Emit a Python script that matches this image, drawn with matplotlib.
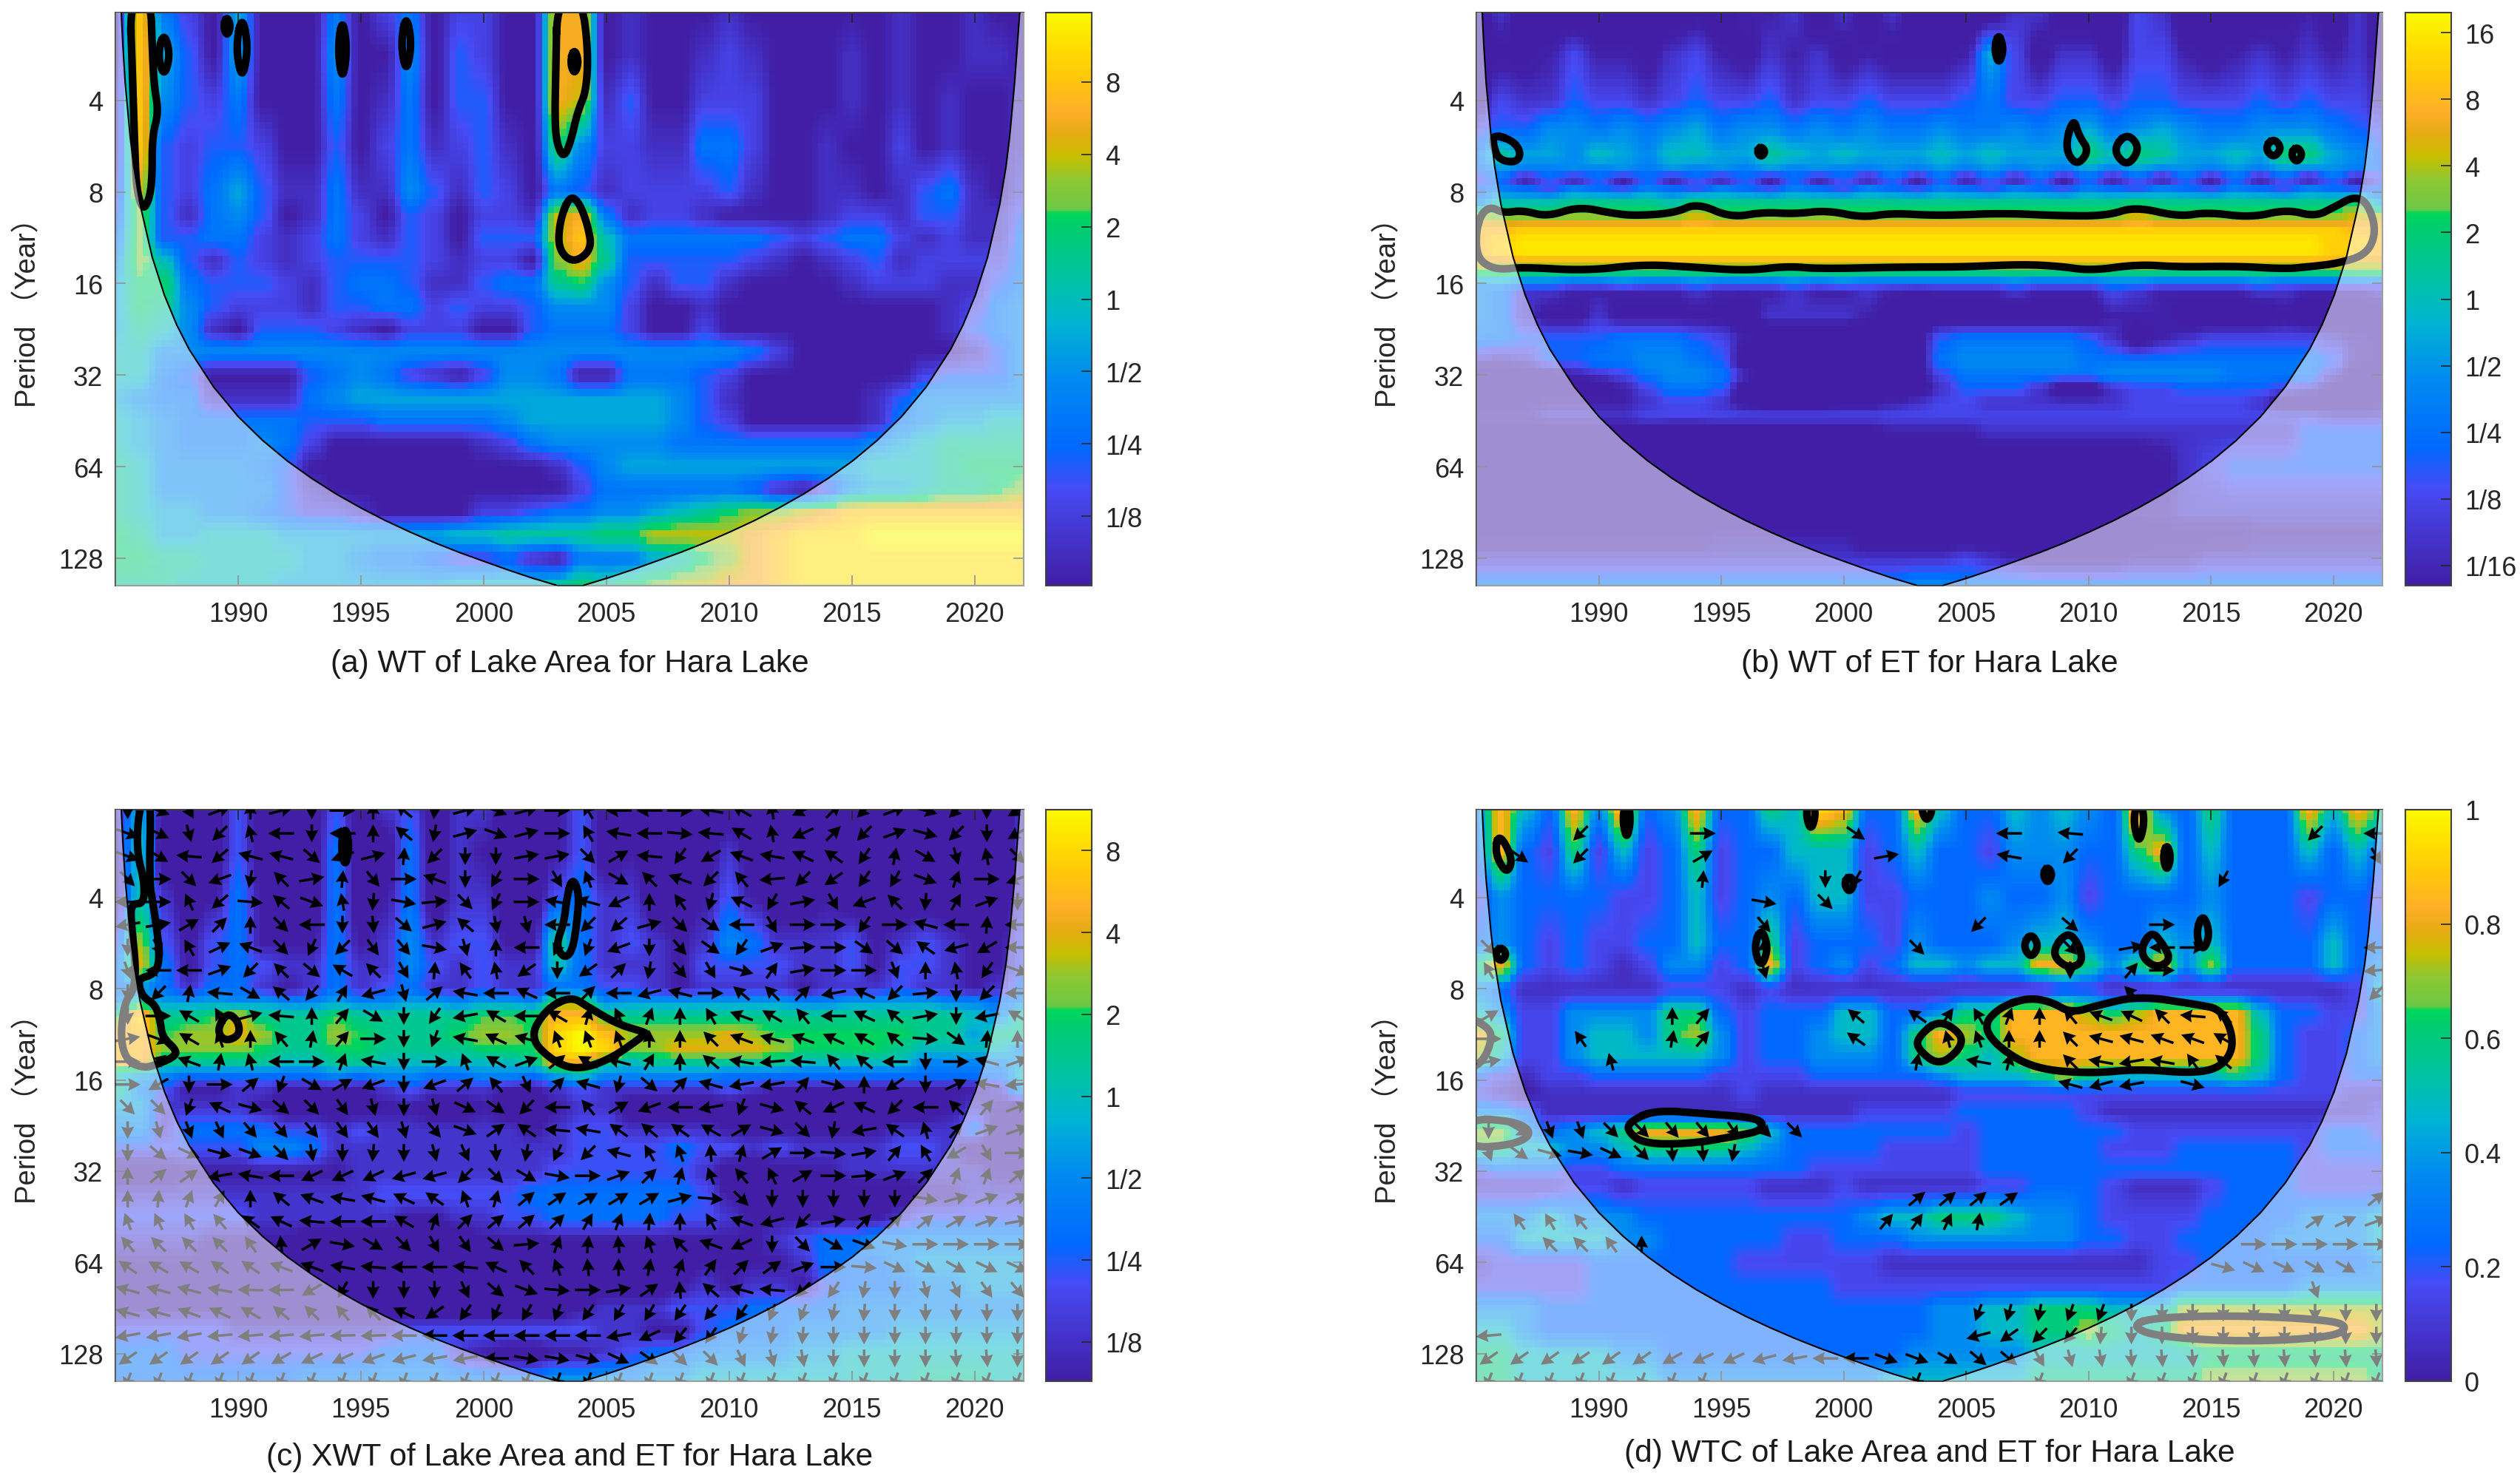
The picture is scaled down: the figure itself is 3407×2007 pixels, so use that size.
import numpy as np
import matplotlib
matplotlib.use("Agg")
import matplotlib.pyplot as plt
from matplotlib.colors import LinearSegmentedColormap

plt.rcParams["font.family"] = ["Liberation Sans", "Noto Sans CJK SC", "DejaVu Sans"]

W, H = 3407, 2008

titles = ["(a) WT of Lake Area for Hara Lake", "(b) WT of ET for Hara Lake",
          "(c) XWT of Lake Area and ET for Hara Lake", "(d) WTC of Lake Area and ET for Hara Lake"]
period_ticks = [4, 8, 16, 32, 64, 128]
year_ticks = [1990, 1995, 2000, 2005, 2010, 2015, 2020]
grid_years = list(range(1985, 2023))

# cone of influence
coi_years = [1985.0, 1985.2, 1985.3, 1985.4, 1985.6, 1985.75, 1986, 1986.5, 1987, 1987.5, 1988, 1989, 1990, 1991,
             1992, 1993, 1994, 1995, 1996, 1997, 1998, 1999, 2000, 2001, 2002, 2002.95, 2003.55,
             2004.1, 2005.03, 2006.03, 2007.03, 2008.03, 2009.03, 2010.03, 2011.03, 2012.03, 2013.03, 2014.03,
             2015.03, 2016.03, 2017.03, 2018.03, 2019.03, 2019.53, 2020.03, 2020.53, 2021.03, 2021.28, 2021.43,
             2021.63, 2021.83, 2022.03]
coi_periods = [1.5, 1.75, 2.6, 3.5, 5.25, 6.6, 8.75, 13.1, 17.5, 21.9, 26.3, 35, 43.8, 52.5,
               61.3, 70, 78.8, 87.5, 96.3, 105, 113.8, 122.5, 131, 140, 149, 157, 175,
               157, 149, 140, 131, 122.5, 113.8, 105, 96.3, 87.5, 78.8, 70,
               61.3, 52.5, 43.8, 35, 26.3, 21.9, 17.5, 13.1, 8.75, 6.6, 5.25,
               3.5, 2.1, 1.5]

# power in half-octaves (a, b, c) and coherence in tenths (d), one row per log2 period
rows_a = [1.04, 1.5, 2, 2.5, 3, 3.25, 3.5, 3.75, 4, 4.25, 4.5, 4.75, 5, 5.25, 5.5, 5.75, 6, 6.25, 6.5, 6.75, 7, 7.3]
levels_a = [
    [-7, 6, -3, -5, -7, -1, -7, -7, -7, -3, -7, -5, -3, -7, -5, -5, -7, -7, 5, 5, -7, -6, -7, -7, -7, -6, -7, -7, -7, -7, -7, -7, -6, -7, -7, -6, -7, -7],
    [-7, 6, -1, -4, -7, -1, -7, -7, -7, -2, -7, -7, -2, -7, -4, -5, -7, -7, 5, 5, -7, -6, -7, -7, -6, -5, -6, -7, -7, -7, -6, -7, -6, -7, -7, -6, -6, -7],
    [-6, 6, -2, -4, -5, -3, -7, -7, -7, -3, -7, -6, -3, -7, -4, -4, -7, -7, 5, 4, -6, -4, -7, -7, -5, -5, -5, -7, -7, -7, -6, -7, -6, -7, -6, -7, -7, -6],
    [-6, 6, -4, -5, -4, -4, -5, -7, -7, -4, -7, -5, -3, -6, -5, -4, -6, -7, 2, -2, -5, -5, -6, -6, -3, -3, -5, -7, -7, -6, -7, -7, -5, -7, -6, -7, -7, -6],
    [-5, 4, -4, -5, -3, -1, -4, -6, -6, -3, -6, -6, -2, -4, -6, -4, -5, -7, -3, -4, -6, -5, -5, -5, -5, -4, -6, -7, -7, -6, -6, -7, -6, -4, -3, -6, -7, -5],
    [-4, 3, -4, -6, -3, -2, -4, -7, -6, -3, -5, -7, -4, -5, -7, -5, -5, -6, 4, 5, -3, -6, -5, -5, -6, -7, -7, -7, -7, -6, -5, -5, -6, -4, -4, -6, -6, -4],
    [-3, 3, -4, -4, -3, -3, -5, -6, -5, -3, -5, -6, -4, -5, -7, -4, -4, -4, 4, 6, 0, -3, -3, -3, -3, -3, -3, -4, -5, -4, -3, -3, -5, -6, -5, -6, -6, -3],
    [-2, 3, 0, -4, -6, -4, -5, -6, -5, -4, -4, -4, -4, -5, -6, -5, -5, -7, 3, 5, 1, -4, -4, -4, -4, -4, -5, -6, -7, -6, -5, -4, -6, -5, -5, -5, -5, -3],
    [-1, 2, 2, -3, -4, -4, -4, -5, -6, -4, -3, -3, -4, -6, -6, -4, -3, -3, 1, 2, -2, -4, -6, -4, -4, -6, -7, -7, -7, -7, -6, -5, -5, -5, -6, -6, -4, -3],
    [-1, 2, 1, -2, -4, -5, -5, -5, -6, -4, -4, -3, -3, -5, -4, -5, -5, -4, -2, -2, -2, -5, -7, -7, -6, -7, -7, -7, -7, -7, -7, -7, -7, -7, -6, -5, -3, -2],
    [-1, 1, 0, -2, -6, -7, -4, -4, -4, -5, -6, -7, -5, -5, -5, -7, -7, -4, -3, -3, -3, -5, -7, -7, -5, -7, -7, -7, -7, -7, -7, -7, -7, -7, -6, -4, -3, -2],
    [0, 0, -2, -2, -2, -2, -2, -2, -2, -2, -2, -2, -2, -2, -2, -2, -2, -2, -2, -2, -2, -2, -2, -2, -2, -2, -3, -5, -7, -7, -7, -7, -7, -7, -7, -6, -4, -2],
    [0, 0, -3, -4, -7, -7, -7, -7, -4, -3, -2, -3, -5, -6, -7, -5, -2, -2, -3, -7, -7, -3, -3, -3, -4, -5, -7, -7, -7, -7, -7, -7, -7, -5, -4, -4, -4, -2],
    [-1, -2, -3, -3, -6, -6, -6, -6, -3, -2, -1, -1, -1, -1, -1, -1, -1, -1, -1, -1, -1, -1, -1, -2, -4, -6, -7, -7, -7, -7, -7, -6, -4, -2, -2, -2, -2, -2],
    [0, -1, -2, -3, -3, -3, -3, -3, -4, -4, -4, -3, -3, -3, -3, -3, -2, -1, -1, -1, -1, -1, -1, -2, -4, -5, -7, -7, -7, -7, -7, -6, -3, -2, -1, -1, 0, 0],
    [0, -1, -2, -3, -3, -3, -2, -3, -5, -7, -7, -7, -7, -7, -7, -6, -5, -3, -2, -2, -2, -2, -2, -3, -3, -3, -3, -3, -3, -3, -3, -2, -1, 0, 1, 1, 1, 1],
    [1, 0, -2, -2, -2, -2, -3, -4, -7, -7, -7, -7, -7, -7, -7, -7, -7, -7, -6, -4, -2, -1, -1, -1, -1, -1, -1, -1, -1, -1, -1, 0, 0, 0, 1, 2, 2, 2],
    [1, 0, -2, -2, -2, -2, -2, -4, -6, -7, -7, -7, -7, -7, -7, -7, -7, -7, -7, -5, -3, -3, -3, -3, -3, -3, -4, -6, -7, -5, -2, -1, -1, 0, 1, 1, 2, 3],
    [1, 0, -1, -1, -2, -2, -3, -4, -5, -5, -6, -7, -7, -7, -7, -5, -5, -4, -3, -3, -2, -2, -1, 0, 1, 2, 3, 3, 4, 5, 6, 6, 6, 6, 6, 6, 6, 6],
    [2, 1, -1, -1, 0, 0, 0, -1, -1, -1, -1, -1, -1, -1, 0, 0, 1, 1, 1, 1, 2, 2, 4, 4, 4, 4, 5, 6, 7, 7, 7, 8, 8, 8, 8, 8, 8, 8],
    [2, 2, 1, 1, 0, 0, 0, 0, -1, -1, -2, -3, -3, -4, -5, -5, -4, -6, -7, -3, -3, -3, -1, 0, 2, 3, 5, 6, 7, 7, 7, 7, 7, 7, 7, 7, 7, 7],
    [1, 1, 1, 0, 0, 0, 0, -1, -1, -1, -1, -1, -1, -1, 0, 0, 0, 0, 1, 2, 1, 2, 3, 4, 4, 5, 5, 6, 7, 7, 7, 7, 7, 7, 7, 7, 7, 7],
]

rows_b = [1.04, 1.5, 2, 2.3, 2.6, 2.78, 2.85, 2.95, 3.1, 3.3, 3.42, 3.53, 3.65, 3.75, 3.87, 4, 4.1, 4.35, 4.6, 4.85, 5, 5.15, 5.3, 5.45, 5.6, 6, 6.5, 6.75, 7, 7.3]
levels_b = [
    [-9, -6, -9, -9, -9, -9, -9, -9, -9, -8, -9, -7, -7, -6, -9, -6, -9, -6, -9, -9, -9, -9, -6, -6, -9, -9, -9, -5, -6, -9, -9, -9, -9, -8, -7, -9, -6, -9],
    [-9, -8, -8, -7, -5, -7, -7, -8, -6, -5, -7, -8, -6, -7, -6, -8, -7, -8, -8, -8, -7, -1, -5, -8, -6, -6, -8, -5, -5, -7, -8, -7, -6, -7, -6, -7, -6, -8],
    [-8, -5, -6, -6, -4, -5, -5, -6, -5, -4, -5, -5, -4, -6, -5, -5, -4, -5, -5, -5, -4, -3, -5, -5, -4, -4, -5, -4, -4, -5, -5, -5, -4, -5, -4, -5, -5, -7],
    [-5, -4, -4, -2, -2, -3, -2, -3, -2, -1, -3, -2, -2, -3, -2, -3, -2, -3, -3, -2, -3, -3, -2, -3, -2, -1, -3, -2, -1, -2, -3, -3, -2, -2, -2, -3, -4, -5],
    [-3, 1, -1, -1, -2, 0, -1, -2, 0, 0, -1, -1, 1, 0, -1, 0, -1, -1, -1, 0, -1, 0, -1, -1, -1, 2, 0, 2, 1, -1, -1, 0, -1, 2, 2, -1, -2, -4],
    [-4, -2, -3, -3, -2, -3, -2, -3, -2, -3, -2, -3, -2, -3, -2, -3, -3, -2, -3, -2, -3, -2, -3, -2, -3, -2, -3, -2, -3, -2, -3, -2, -3, -2, -3, -2, -3, -4],
    [-5, -4, -8, -4, -8, -4, -8, -4, -8, -4, -8, -4, -8, -4, -8, -4, -8, -4, -8, -4, -8, -4, -8, -4, -8, -4, -8, -4, -8, -4, -8, -4, -8, -4, -8, -4, -8, -5],
    [-4, -3, -4, -5, -3, -4, -5, -3, -4, -5, -3, -4, -5, -3, -4, -5, -3, -4, -5, -3, -4, -5, -3, -4, -5, -3, -4, -5, -3, -4, -5, -3, -4, -5, -3, -4, -5, -4],
    [-3, 0, 0, 0, 1, 1, 1, 1, 0, 2, 1, 1, 1, 1, 1, 1, 1, 1, 1, 1, 1, 1, 1, 1, 1, 1, 1, 2, 1, 1, 1, 1, 1, 1, 1, 1, 2, -2],
    [5, 4, 4, 4, 4, 4, 4, 4, 4, 5, 4, 4, 4, 4, 4, 4, 4, 4, 4, 4, 4, 4, 4, 4, 4, 4, 4, 5, 4, 4, 4, 4, 4, 4, 4, 4, 5, 5],
    [6, 6, 7, 7, 7, 7, 7, 7, 7, 7, 7, 7, 7, 7, 7, 7, 7, 7, 7, 7, 7, 7, 7, 7, 7, 7, 7, 7, 7, 7, 7, 7, 7, 7, 7, 7, 6, 6],
    [6, 7, 8, 8, 8, 8, 8, 8, 8, 8, 8, 8, 8, 8, 8, 8, 8, 8, 8, 8, 8, 8, 8, 8, 8, 8, 8, 8, 8, 8, 8, 8, 8, 8, 8, 7, 7, 6],
    [6, 7, 8, 8, 8, 8, 8, 8, 8, 8, 8, 8, 8, 8, 8, 8, 8, 8, 8, 8, 8, 8, 8, 8, 8, 8, 8, 8, 8, 8, 8, 8, 8, 8, 8, 7, 7, 6],
    [5, 5, 6, 6, 6, 6, 6, 6, 6, 6, 6, 6, 6, 6, 6, 6, 6, 6, 6, 6, 6, 6, 6, 6, 6, 6, 6, 6, 6, 6, 6, 6, 6, 6, 6, 6, 5, 5],
    [3, 3, 2, 2, 2, 2, 2, 2, 2, 2, 2, 2, 2, 2, 2, 2, 2, 2, 2, 2, 2, 2, 2, 2, 2, 2, 2, 2, 2, 2, 2, 2, 2, 2, 2, 2, 3, 3],
    [-2, -2, -3, -3, -4, -4, -3, -4, -4, -3, -4, -4, -4, -3, -4, -3, -4, -4, -4, -4, -4, -4, -3, -4, -4, -4, -3, -3, -4, -4, -4, -4, -3, -4, -4, -4, -4, -4],
    [-2, -3, -6, -6, -7, -7, -7, -7, -7, -6, -7, -7, -7, -6, -7, -7, -6, -7, -8, -7, -7, -7, -6, -7, -7, -7, -5, -6, -7, -7, -7, -7, -6, -6, -7, -7, -7, -6],
    [-2, -3, -6, -8, -8, -6, -8, -8, -8, -8, -8, -9, -6, -6, -6, -6, -7, -9, -9, -9, -9, -9, -9, -9, -9, -9, -7, -7, -7, -9, -9, -9, -9, -8, -9, -9, -9, -9],
    [-3, -3, -4, -4, -4, -4, -3, -3, -3, -4, -5, -7, -9, -9, -9, -9, -9, -9, -8, -4, -3, -3, -3, -3, -3, -4, -6, -9, -7, -6, -5, -5, -5, -5, -5, -6, -7, -8],
    [-6, -7, -6, -4, -4, -3, -3, -2, -2, -3, -4, -9, -9, -9, -9, -9, -9, -9, -8, -3, -2, -2, -2, -2, -2, -3, -3, -3, -3, -3, -3, -3, -3, -3, -3, -4, -7, -8],
    [-9, -9, -9, -9, -7, -6, -5, -3, -2, -2, -3, -6, -9, -9, -9, -9, -9, -9, -8, -5, -3, -3, -3, -3, -3, -3, -2, -2, -2, -2, -2, -3, -3, -3, -3, -6, -9, -9],
    [-9, -9, -9, -9, -9, -9, -7, -5, -3, -3, -4, -9, -9, -9, -9, -9, -9, -9, -9, -6, -4, -4, -4, -6, -9, -9, -6, -5, -5, -4, -4, -4, -4, -5, -6, -8, -9, -9],
    [-8, -8, -8, -7, -7, -7, -7, -6, -5, -5, -6, -8, -9, -9, -9, -8, -8, -7, -6, -5, -5, -6, -6, -6, -6, -6, -6, -5, -5, -5, -5, -5, -6, -9, -9, -9, -9, -8],
    [-7, -7, -7, -6, -6, -6, -6, -5, -5, -5, -5, -5, -5, -5, -5, -5, -5, -5, -5, -5, -5, -5, -5, -5, -5, -5, -5, -5, -5, -5, -5, -5, -5, -5, -5, -6, -6, -6],
    [-8, -8, -8, -8, -8, -8, -8, -8, -9, -9, -8, -8, -8, -8, -8, -8, -8, -7, -7, -7, -7, -6, -6, -6, -6, -6, -6, -6, -6, -6, -6, -6, -6, -6, -4, -4, -4, -4],
    [-9, -9, -9, -9, -9, -9, -9, -9, -9, -9, -9, -9, -9, -9, -9, -9, -9, -9, -9, -9, -9, -9, -9, -9, -9, -9, -9, -9, -8, -6, -5, -4, -4, -4, -4, -4, -4, -4],
    [-9, -9, -9, -9, -9, -9, -9, -9, -9, -9, -9, -9, -9, -9, -9, -9, -9, -9, -9, -9, -9, -9, -9, -9, -9, -9, -8, -7, -7, -6, -6, -6, -6, -6, -6, -6, -6, -6],
    [-8, -8, -8, -8, -8, -8, -8, -8, -8, -8, -7, -7, -7, -7, -7, -7, -9, -9, -9, -9, -9, -9, -9, -9, -9, -9, -9, -9, -8, -8, -8, -8, -7, -7, -7, -7, -7, -7],
    [-6, -6, -6, -6, -6, -6, -6, -6, -6, -6, -6, -6, -6, -6, -6, -6, -6, -6, -6, -6, -5, -6, -7, -8, -8, -8, -8, -7, -7, -7, -6, -6, -6, -6, -6, -6, -6, -6],
    [-3, -3, -3, -3, -3, -3, -3, -3, -3, -3, -3, -3, -3, -3, -3, -3, -3, -3, -2, -2, -3, -3, -3, -3, -3, -3, -3, -3, -3, -3, -3, -3, -3, -3, -3, -3, -3, -3],
]

rows_c = [1.04, 1.5, 2, 2.5, 2.75, 3, 3.15, 3.3, 3.5, 3.65, 3.8, 3.95, 4.1, 4.3, 4.55, 4.75, 5, 5.25, 5.5, 5.75, 6, 6.25, 6.5, 6.75, 7, 7.3]
levels_c = [
    [-5, -1, -6, -7, -7, -4, -7, -7, -7, -4, -7, -5, -4, -7, -5, -5, -7, -7, -6, -4, -7, -7, -7, -7, -7, -7, -7, -7, -7, -7, -7, -7, -7, -7, -7, -7, -7, -5],
    [-6, 0, -7, -7, -7, -4, -7, -7, -7, -3, -7, -7, -3, -7, -5, -6, -7, -7, -6, -4, -7, -6, -7, -7, -7, -5, -7, -7, -7, -7, -7, -7, -7, -7, -7, -7, -7, -5],
    [-6, 0, -5, -7, -6, -3, -6, -7, -7, -3, -7, -6, -3, -7, -5, -5, -7, -7, -4, -3, -5, -5, -7, -7, -6, -4, -6, -7, -7, -6, -7, -7, -7, -7, -7, -7, -7, -5],
    [-4, 3, -4, -6, -4, -3, -6, -6, -6, -3, -6, -5, -2, -5, -4, -4, -6, -6, 1, -3, -5, -4, -5, -6, -5, -2, -3, -5, -5, -5, -4, -6, -5, -4, -5, -6, -6, -4],
    [-3, 4, -3, -6, -4, -3, -4, -5, -5, -3, -5, -5, -2, -4, -5, -4, -5, -5, 0, -3, -5, -5, -5, -6, -4, -4, -4, -4, -5, -5, -4, -6, -4, -4, -5, -6, -6, -4],
    [-3, -2, -3, -5, -3, -3, -5, -6, -5, -3, -5, -4, -3, -5, -5, -4, -5, -5, -3, -3, -4, -4, -5, -6, -5, -5, -5, -5, -6, -5, -5, -5, -4, -5, -5, -6, -5, -3],
    [-2, 1, -1, -1, -1, -2, -1, -2, -2, -1, -2, -2, -1, -1, -2, -1, -1, -2, 3, 3, -2, -1, -1, -1, -1, -1, -1, -1, -2, -2, -1, -1, -1, -1, -2, -2, -3, -2],
    [2, 6, 1, 1, 2, 4, 1, 1, 1, 2, 1, 1, 1, 1, 1, 2, 2, 2, 5, 5, 2, 1, 1, 1, 1, 1, 1, 1, 1, 1, 1, 1, 1, 1, 1, 0, -2, 1],
    [5, 5, 2, 3, 3, 4, 3, 1, 1, 3, 2, 1, 1, 1, 2, 3, 3, 2, 6, 7, 5, 3, 3, 3, 3, 4, 3, 2, 2, 2, 2, 2, 2, 1, 1, -1, 1, 1],
    [5, 5, 3, 3, 3, 3, 2, 1, 1, 2, 2, 1, 1, 1, 1, 2, 2, 2, 6, 7, 6, 3, 3, 4, 4, 4, 4, 3, 2, 2, 2, 2, 1, 0, 0, 0, 0, -2],
    [5, 5, 1, 1, 1, 1, 1, 0, 0, 1, 1, 0, 0, 0, 0, 0, 0, 1, 5, 5, 1, 0, 1, 1, 1, 1, 1, 1, 0, 0, 0, 0, 0, -2, -2, -2, -2, -1],
    [0, -1, -2, -3, -3, -3, -3, -3, -3, -2, -3, -2, -2, -3, -3, -2, -2, -3, -1, 0, -2, -2, -2, -2, -2, -3, -3, -3, -3, -3, -3, -3, -3, -3, -3, -3, -3, 0],
    [1, -2, -4, -6, -6, -5, -5, -6, -6, -6, -6, -5, -4, -5, -5, -5, -6, -6, -5, -4, -5, -5, -5, -5, -5, -4, -5, -6, -6, -6, -6, -6, -6, -6, -6, -6, -5, -1],
    [-1, -1, -5, -5, -5, -5, -6, -7, -7, -7, -7, -6, -6, -7, -7, -6, -7, -7, -6, -5, -5, -7, -7, -7, -7, -7, -7, -7, -7, -7, -7, -7, -7, -7, -6, -5, -6, -7],
    [-2, -2, -5, -3, -3, -3, -3, -4, -4, -5, -4, -5, -5, -5, -5, -5, -5, -6, -5, -4, -4, -5, -5, -5, -5, -6, -6, -6, -6, -6, -6, -6, -5, -5, -5, -3, -7, -7],
    [-4, -4, -4, -4, -4, -4, -2, -2, -3, -5, -5, -5, -5, -5, -5, -5, -5, -5, -5, -4, -4, -4, -4, -3, -4, -4, -5, -4, -5, -5, -5, -5, -4, -4, -5, -7, -7, -7],
    [-7, -7, -7, -6, -6, -6, -6, -6, -6, -6, -5, -5, -5, -5, -5, -5, -5, -5, -4, -4, -4, -4, -4, -4, -5, -7, -7, -7, -6, -6, -5, -5, -5, -5, -5, -5, -6, -6],
    [-5, -5, -5, -5, -5, -5, -5, -5, -5, -5, -5, -4, -4, -4, -4, -4, -4, -3, -3, -3, -3, -3, -3, -3, -4, -6, -7, -7, -7, -7, -7, -7, -7, -6, -6, -5, -5, -5],
    [-4, -4, -4, -4, -4, -4, -5, -5, -5, -5, -5, -5, -6, -6, -5, -5, -4, -4, -3, -3, -3, -3, -3, -4, -4, -5, -6, -6, -6, -6, -6, -6, -5, -4, -4, -4, -4, -4],
    [-5, -5, -5, -5, -6, -6, -6, -6, -7, -7, -7, -7, -7, -7, -7, -6, -6, -6, -6, -6, -6, -6, -6, -6, -6, -6, -6, -5, -4, -3, -3, -2, -2, -2, -2, -2, -2, -2],
    [-6, -6, -6, -6, -7, -7, -7, -7, -7, -7, -7, -7, -7, -7, -7, -7, -7, -7, -7, -7, -7, -7, -7, -7, -6, -6, -6, -6, -5, -3, -3, -3, -2, -1, -1, -1, -1, -1],
    [-6, -6, -7, -7, -7, -7, -7, -7, -7, -7, -7, -7, -7, -7, -7, -7, -7, -7, -7, -7, -7, -7, -7, -6, -5, -6, -5, -5, -6, -4, -3, -3, -3, -2, -2, -1, -1, -1],
    [-6, -6, -6, -6, -6, -7, -7, -7, -7, -7, -7, -7, -7, -7, -7, -7, -7, -7, -7, -6, -5, -5, -5, -4, -4, -4, -3, -3, -3, -3, -2, -2, -2, -2, -2, -2, -2, -2],
    [-4, -4, -4, -4, -4, -5, -5, -5, -5, -5, -5, -5, -4, -4, -4, -4, -4, -4, -4, -4, -5, -5, -6, -6, -4, -3, -3, -3, -2, -2, -2, -2, -1, -1, -1, -1, -1, -1],
    [-3, -3, -3, -4, -4, -4, -4, -4, -4, -4, -4, -3, -3, -3, -5, -6, -7, -7, -6, -6, -5, -4, -3, -3, -2, -2, -2, -2, -1, -1, 0, 0, 0, 0, 0, 0, 0, 0],
    [-3, -3, -3, -3, -3, -3, -3, -3, -2, -2, -2, -2, -2, -2, -2, -2, -2, -2, -1, -1, -1, -2, -1, -1, 0, 0, 0, 0, 0, 0, 0, 0, 0, 1, 1, 1, 0, 0],
]

rows_d = [1.04, 1.5, 2, 2.5, 2.75, 3, 3.25, 3.5, 3.75, 3.95, 4.15, 4.35, 4.55, 4.75, 5, 5.15, 5.5, 5.75, 6, 6.25, 6.5, 6.75, 7, 7.3]
levels_d = [
    [4, 8, 5, 3, 8, 4, 9, 3, 4, 8, 3, 3, 6, 5, 9, 8, 3, 3, 8, 5, 3, 3, 5, 4, 5, 4, 3, 9, 4, 3, 6, 3, 3, 3, 8, 5, 8, 6],
    [3, 8, 3, 2, 6, 2, 5, 2, 3, 6, 2, 3, 3, 5, 5, 5, 2, 3, 5, 3, 3, 2, 4, 4, 4, 3, 3, 6, 8, 3, 5, 3, 3, 3, 5, 3, 5, 3],
    [2, 4, 3, 3, 3, 3, 2, 2, 3, 5, 2, 3, 4, 3, 5, 5, 2, 2, 3, 3, 3, 4, 3, 3, 4, 2, 3, 3, 3, 3, 4, 3, 3, 3, 2, 3, 3, 2],
    [3, 4, 3, 2, 3, 2, 2, 3, 3, 5, 3, 3, 6, 2, 3, 3, 3, 2, 4, 3, 3, 3, 4, 5, 5, 4, 3, 3, 5, 4, 5, 3, 3, 3, 3, 5, 3, 3],
    [6, 8, 3, 2, 3, 2, 1, 2, 4, 4, 2, 3, 8, 2, 3, 4, 2, 3, 5, 5, 4, 5, 5, 8, 8, 6, 4, 6, 8, 4, 7, 3, 3, 3, 3, 5, 3, 4],
    [4, 3, 1, 1, 1, 1, 1, 1, 2, 2, 2, 1, 2, 1, 1, 1, 1, 1, 1, 1, 1, 1, 1, 1, 2, 2, 1, 1, 1, 1, 1, 1, 1, 1, 1, 1, 2, 5],
    [5, 4, 2, 2, 4, 4, 4, 4, 6, 6, 3, 2, 3, 3, 3, 5, 5, 3, 3, 4, 6, 6, 8, 8, 8, 7, 6, 7, 8, 8, 8, 8, 5, 3, 3, 2, 2, 4],
    [8, 6, 2, 2, 4, 5, 5, 4, 6, 7, 4, 2, 3, 3, 4, 5, 5, 3, 6, 8, 7, 6, 8, 8, 8, 8, 8, 8, 8, 8, 8, 8, 6, 3, 2, 2, 3, 4],
    [7, 5, 2, 2, 4, 5, 5, 5, 5, 5, 4, 2, 3, 3, 4, 4, 4, 3, 6, 7, 6, 5, 7, 8, 8, 8, 8, 8, 8, 8, 8, 8, 6, 3, 2, 2, 3, 4],
    [3, 2, 1, 2, 2, 3, 3, 3, 3, 3, 2, 2, 2, 2, 3, 3, 3, 3, 3, 4, 5, 5, 5, 6, 7, 6, 5, 5, 5, 5, 5, 6, 5, 3, 2, 2, 3, 3],
    [2, 1, 0, 1, 1, 1, 1, 1, 1, 1, 1, 2, 1, 1, 1, 1, 1, 1, 1, 1, 2, 2, 2, 2, 2, 2, 2, 2, 2, 2, 2, 2, 2, 2, 2, 2, 1, 1],
    [4, 4, 3, 1, 1, 1, 1, 1, 1, 1, 1, 1, 1, 1, 1, 1, 2, 2, 2, 2, 3, 3, 3, 3, 3, 2, 1, 1, 1, 1, 1, 1, 1, 1, 1, 1, 1, 2],
    [7, 7, 4, 3, 4, 5, 6, 8, 8, 8, 8, 7, 5, 3, 3, 3, 3, 3, 3, 3, 2, 3, 3, 3, 3, 3, 3, 2, 2, 2, 2, 2, 2, 2, 2, 3, 3, 2],
    [6, 6, 5, 5, 4, 4, 5, 6, 6, 6, 6, 5, 4, 3, 3, 3, 3, 2, 2, 2, 2, 3, 3, 3, 3, 3, 2, 2, 2, 3, 3, 3, 3, 3, 2, 3, 3, 3],
    [2, 3, 3, 3, 2, 2, 3, 3, 3, 3, 3, 3, 3, 3, 2, 2, 2, 2, 2, 2, 2, 3, 3, 3, 3, 3, 3, 3, 3, 3, 3, 3, 3, 3, 2, 2, 2, 2],
    [1, 1, 1, 1, 2, 2, 1, 2, 2, 2, 2, 2, 1, 1, 1, 2, 1, 1, 1, 1, 1, 2, 2, 3, 3, 3, 2, 1, 1, 1, 2, 3, 3, 3, 2, 2, 2, 2],
    [4, 4, 4, 5, 4, 4, 4, 3, 3, 3, 3, 3, 3, 3, 3, 3, 4, 5, 5, 6, 6, 6, 5, 4, 4, 3, 2, 2, 2, 2, 3, 3, 3, 3, 4, 4, 4, 5],
    [3, 3, 5, 5, 5, 5, 4, 4, 3, 3, 3, 3, 3, 2, 2, 3, 3, 3, 4, 4, 4, 4, 4, 4, 4, 3, 3, 2, 2, 3, 3, 3, 3, 4, 4, 4, 4, 5],
    [1, 2, 2, 2, 2, 3, 3, 3, 3, 3, 3, 2, 2, 2, 2, 2, 2, 1, 1, 1, 1, 1, 1, 1, 1, 1, 1, 1, 2, 2, 3, 3, 3, 3, 3, 3, 3, 4],
    [2, 2, 2, 2, 2, 3, 3, 3, 3, 3, 3, 3, 3, 3, 3, 2, 2, 2, 2, 2, 2, 2, 2, 2, 2, 2, 2, 2, 2, 3, 3, 3, 3, 3, 4, 4, 4, 4],
    [4, 4, 4, 3, 3, 3, 3, 3, 3, 3, 3, 3, 3, 3, 3, 3, 3, 3, 3, 4, 4, 5, 5, 6, 6, 6, 5, 5, 5, 7, 7, 7, 7, 7, 7, 7, 7, 7],
    [5, 5, 4, 3, 3, 3, 3, 3, 3, 3, 3, 3, 3, 3, 3, 3, 3, 3, 3, 4, 4, 5, 5, 6, 6, 7, 6, 5, 6, 8, 8, 8, 8, 8, 8, 8, 8, 7],
    [6, 6, 5, 5, 5, 5, 4, 4, 3, 3, 3, 3, 3, 3, 3, 3, 3, 3, 4, 4, 4, 4, 4, 5, 5, 5, 5, 5, 5, 5, 6, 6, 6, 6, 6, 6, 6, 6],
    [6, 6, 5, 5, 5, 5, 5, 5, 4, 4, 4, 4, 4, 4, 4, 4, 4, 5, 5, 5, 5, 5, 5, 6, 6, 6, 6, 6, 6, 6, 7, 7, 7, 7, 7, 7, 7, 6],
]

# significance contours as (year, log2 period)
contours_a = [
    [(1985.59, 0.9), (1985.69, 1.67), (1985.78, 2.44), (1985.85, 2.96), (1986.11, 3.2), (1986.37, 3.09), (1986.5, 2.86), (1986.5, 2.39), (1986.76, 2.13), (1986.57, 1.82), (1986.5, 1.41), (1986.44, 0.9)],
    [(1986.98, 1.25), (1986.72, 1.5), (1986.98, 1.75), (1987.24, 1.5)],
    [(1989.55, 1.08), (1989.4, 1.19), (1989.55, 1.3), (1989.7, 1.19)],
    [(1990.16, 1.06), (1989.9, 1.42), (1990.16, 1.79), (1990.42, 1.42)],
    [(1994.25, 1.09), (1994.05, 1.44), (1994.25, 1.8), (1994.45, 1.44)],
    [(1996.85, 1.05), (1996.62, 1.38), (1996.85, 1.71), (1997.08, 1.38)],
    [(2003.0, 0.9), (2002.94, 1.67), (2002.9, 2.24), (2003.0, 2.49), (2003.27, 2.63), (2003.56, 2.44), (2003.82, 2.13), (2004.2, 1.88), (2004.25, 1.41), (2003.99, 0.9)],
    [(2003.7, 1.43), (2003.52, 1.58), (2003.7, 1.72), (2003.88, 1.58)],
    [(2003.5, 3.04), (2003.1, 3.32), (2003.04, 3.63), (2003.66, 3.78), (2004.41, 3.63), (2004.25, 3.37), (2003.89, 3.11)],
]
contours_b = [
    [(1985.0, 3.42), (1985.2, 3.24), (1985.59, 3.16), (1986.08, 3.23), (1986.9, 3.2), (1987.88, 3.27), (1989.18, 3.16), (1990.49, 3.23), (1991.47, 3.26), (1993.1, 3.23), (1994.02, 3.12),
     (1995.39, 3.28), (1996.7, 3.22), (1998.0, 3.24), (1999.31, 3.2), (2000.78, 3.28), (2001.93, 3.23), (2003.89, 3.26), (2006.5, 3.23), (2008.79, 3.26), (2010.75, 3.26), (2011.9, 3.16),
     (2013.69, 3.27), (2014.84, 3.22), (2016.63, 3.28), (2018.1, 3.19), (2019.25, 3.27), (2020.07, 3.16), (2020.82, 3.05), (2021.38, 3.11), (2021.76, 3.42), (2021.38, 3.68), (2020.2, 3.78),
     (2018.9, 3.82), (2018.0, 3.84), (2016.0, 3.81), (2013.69, 3.82), (2012.0, 3.79), (2010.1, 3.86), (2008.79, 3.81), (2007.2, 3.79), (2004.9, 3.82), (2002.3, 3.82), (1999.0, 3.84),
     (1997.7, 3.81), (1996.05, 3.86), (1993.8, 3.82), (1991.8, 3.79), (1989.5, 3.86), (1986.9, 3.82), (1985.9, 3.85), (1985.26, 3.78), (1985.0, 3.65)],
    [(2006.34, 1.26), (2006.14, 1.44), (2006.34, 1.61), (2006.54, 1.44)],
    [(1996.63, 2.5), (1996.45, 2.56), (1996.63, 2.62), (1996.81, 2.56)],
    [(1985.69, 2.37), (1986.5, 2.44), (1986.83, 2.57), (1986.63, 2.68), (1985.92, 2.65), (1985.69, 2.49)],
    [(2009.38, 2.18), (2009.02, 2.52), (2009.51, 2.72), (2010.03, 2.55), (2009.61, 2.39)],
    [(2011.57, 2.35), (2010.98, 2.54), (2011.57, 2.73), (2012.12, 2.52)],
    [(2017.55, 2.41), (2017.2, 2.52), (2017.55, 2.63), (2017.9, 2.52)],
    [(2018.5, 2.5), (2018.25, 2.59), (2018.5, 2.68), (2018.75, 2.59)],
]
contours_c = [
    [(1986.1, 0.9), (1985.9, 1.19), (1985.9, 1.54), (1986.17, 1.81), (1986.17, 2.07), (1985.63, 2.07), (1985.65, 2.3), (1985.83, 2.75), (1985.76, 3.01), (1985.36, 3.16), (1985.2, 3.56),
     (1985.49, 3.8), (1986.17, 3.87), (1986.7, 3.83), (1987.38, 3.75), (1987.51, 3.68), (1986.91, 3.53), (1986.84, 3.37), (1986.64, 3.18), (1986.17, 3.1), (1985.97, 2.99), (1985.97, 2.89),
     (1986.5, 2.85), (1986.77, 2.75), (1986.77, 2.51), (1986.57, 2.13), (1986.37, 1.81), (1986.46, 0.9)],
    [(1994.36, 1.21), (1994.18, 1.44), (1994.36, 1.68), (1994.54, 1.44)],
    [(1989.54, 3.26), (1989.13, 3.46), (1989.47, 3.58), (1990.07, 3.51), (1990.0, 3.35)],
    [(2003.62, 1.78), (2003.39, 2.0), (2003.28, 2.27), (2002.94, 2.53), (2003.28, 2.67), (2003.62, 2.59), (2003.82, 2.24), (2003.89, 1.95)],
    [(2003.56, 3.08), (2002.52, 3.23), (2001.86, 3.54), (2002.84, 3.8), (2003.82, 3.89), (2005.13, 3.78), (2006.6, 3.5), (2006.6, 3.48), (2005.46, 3.39), (2004.31, 3.21)],
]
contours_d = [
    [(1985.92, 1.29), (1985.75, 1.52), (1986.24, 1.75), (1986.5, 1.58)],
    [(1986.0, 2.54), (1985.75, 2.62), (1986.0, 2.71), (1986.25, 2.62)],
    [(1984.6, 3.3), (1985.59, 3.44), (1985.59, 3.6), (1985.26, 3.8), (1984.6, 3.9)],
    [(1984.6, 4.42), (1986.57, 4.45), (1987.32, 4.58), (1986.57, 4.71), (1984.6, 4.75)],
    [(1992.29, 4.33), (1991.31, 4.45), (1991.14, 4.55), (1991.8, 4.7), (1993.76, 4.7), (1995.72, 4.61), (1996.7, 4.55), (1996.63, 4.42), (1994.41, 4.37)],
    [(1996.63, 2.33), (1996.33, 2.55), (1996.63, 2.78), (1996.93, 2.55)],
    [(2003.89, 3.34), (2003.07, 3.52), (2002.97, 3.65), (2003.89, 3.85), (2004.8, 3.65), (2004.8, 3.49)],
    [(2007.48, 3.1), (2006.34, 3.21), (2005.69, 3.41), (2006.34, 3.65), (2007.81, 3.88), (2010.1, 3.93), (2012.06, 3.88), (2014.35, 3.93), (2015.49, 3.85), (2015.98, 3.6), (2015.49, 3.23),
     (2014.35, 3.17), (2012.06, 3.08), (2010.42, 3.18), (2009.28, 3.27), (2008.46, 3.14)],
    [(2007.65, 2.39), (2007.32, 2.53), (2007.65, 2.67), (2007.98, 2.53)],
    [(2009.12, 2.37), (2008.46, 2.61), (2009.12, 2.78), (2009.77, 2.72), (2009.61, 2.51)],
    [(2012.55, 2.36), (2012.06, 2.61), (2012.71, 2.78), (2013.37, 2.69), (2013.04, 2.51)],
    [(2014.67, 2.17), (2014.37, 2.4), (2014.67, 2.6), (2014.97, 2.4)],
    [(1991.14, 0.9), (1990.96, 1.14), (1991.14, 1.38), (1991.32, 1.14)],
    [(1998.66, 0.9), (1998.44, 1.08), (1998.66, 1.28), (1998.88, 1.08)],
    [(2003.4, 0.9), (2003.15, 1.03), (2003.4, 1.18), (2003.65, 1.03)],
    [(2012.06, 0.9), (2011.81, 1.15), (2012.06, 1.43), (2012.31, 1.15)],
    [(2013.2, 1.41), (2013.03, 1.56), (2013.2, 1.72), (2013.37, 1.56)],
    [(2008.33, 1.66), (2008.13, 1.75), (2008.33, 1.85), (2008.53, 1.75)],
    [(2000.23, 1.76), (2000.01, 1.85), (2000.23, 1.95), (2000.45, 1.85)],
    [(2011.73, 6.69), (2012.71, 6.6), (2016.31, 6.58), (2019.9, 6.63), (2020.62, 6.71), (2019.9, 6.82), (2016.31, 6.87), (2012.71, 6.81)],
]

# phase arrows, degrees counterclockwise from east. Panel (c) is a full grid, top row first
phase_c = [
    [270, 340, 300, 20, 90, 15, 270, 0, 90, 140, 265, 15, 340, 15, 0, 120, 180, 180, 0, 170, 150, 100, 205, 45, 225, 20, 345, 225, 270, 210],
    [340, 335, 285, 225, 105, 180, 270, 180, 90, 140, 260, 15, 340, 15, 0, 120, 170, 180, 355, 175, 150, 100, 205, 45, 225, 20, 345, 225, 270, 210],
    [340, 330, 175, 220, 165, 165, 320, 200, 15, 85, 225, 270, 270, 10, 10, 315, 30, 175, 235, 210, 160, 170, 155, 145, 235, 80, 330, 285, 100, 315],
    [315, 0, 315, 200, 260, 135, 10, 85, 310, 0, 160, 270, 240, 0, 300, 110, 330, 135, 160, 225, 130, 185, 225, 215, 235, 240, 340, 70, 0, 200],
    [180, 0, 115, 220, 355, 140, 340, 100, 265, 350, 5, 315, 245, 0, 170, 165, 205, 90, 125, 255, 155, 240, 10, 300, 200, 135, 265, 60, 20, 270],
    [190, 10, 30, 45, 90, 315, 180, 270, 275, 320, 15, 140, 280, 285, 180, 225, 220, 15, 315, 325, 180, 300, 0, 0, 235, 0, 165, 180, 85, 180],
    [270, 300, 120, 25, 160, 315, 245, 225, 305, 310, 350, 285, 90, 180, 245, 250, 200, 270, 310, 325, 235, 20, 5, 0, 325, 320, 145, 195, 210, 180],
    [290, 180, 180, 20, 225, 135, 320, 150, 135, 300, 85, 125, 100, 215, 270, 215, 45, 260, 310, 300, 345, 55, 10, 0, 0, 290, 90, 100, 235, 340],
    [270, 225, 80, 175, 330, 140, 230, 60, 195, 285, 40, 170, 180, 155, 180, 45, 180, 195, 165, 0, 140, 135, 45, 190, 155, 225, 5, 270, 225, 180],
    [270, 0, 150, 120, 15, 175, 90, 50, 330, 270, 235, 190, 150, 180, 150, 75, 115, 70, 90, 120, 160, 150, 130, 180, 155, 140, 10, 270, 190, 150],
    [10, 340, 150, 110, 90, 130, 80, 50, 0, 270, 250, 170, 155, 165, 110, 110, 110, 90, 90, 135, 160, 165, 160, 155, 150, 140, 355, 325, 85, 90],
    [0, 40, 160, 80, 105, 180, 0, 70, 170, 270, 0, 110, 150, 20, 40, 150, 165, 60, 90, 140, 170, 185, 175, 130, 140, 180, 270, 0, 165, 20],
    [0, 210, 270, 0, 40, 250, 330, 30, 200, 270, 200, 40, 130, 295, 45, 165, 255, 320, 45, 165, 190, 190, 50, 345, 90, 215, 270, 25, 170, 185],
    [315, 315, 250, 155, 345, 320, 315, 305, 285, 270, 285, 335, 325, 225, 180, 130, 30, 200, 180, 190, 250, 345, 140, 205, 155, 225, 180, 135, 50, 20],
    [270, 285, 290, 295, 310, 310, 310, 305, 305, 285, 310, 340, 35, 145, 175, 170, 145, 140, 145, 150, 30, 345, 315, 260, 190, 145, 105, 50, 20, 20],
    [270, 320, 335, 345, 340, 315, 280, 270, 265, 270, 285, 295, 275, 260, 245, 225, 165, 120, 110, 95, 75, 30, 0, 355, 10, 50, 120, 210, 300, 0],
    [90, 40, 35, 190, 170, 180, 205, 205, 205, 195, 195, 225, 315, 330, 350, 0, 20, 45, 75, 110, 130, 115, 30, 0, 5, 20, 45, 70, 70, 40],
    [90, 85, 70, 60, 90, 140, 160, 170, 165, 155, 145, 110, 75, 40, 35, 30, 30, 30, 15, 355, 315, 270, 270, 270, 270, 270, 350, 15, 20, 25],
    [110, 115, 120, 130, 145, 155, 175, 180, 180, 150, 70, 45, 40, 40, 45, 60, 70, 85, 90, 120, 160, 195, 225, 10, 45, 45, 40, 30, 20, 10],
    [130, 135, 135, 135, 125, 95, 30, 350, 330, 315, 300, 305, 320, 5, 70, 85, 95, 110, 135, 160, 205, 270, 315, 330, 340, 350, 0, 0, 0, 0],
    [145, 150, 150, 145, 145, 160, 160, 170, 175, 180, 180, 175, 155, 135, 110, 95, 90, 80, 70, 55, 45, 35, 20, 0, 355, 335, 330, 330, 335, 335],
    [165, 165, 165, 170, 178, 180, 210, 240, 270, 270, 270, 295, 320, 340, 355, 0, 10, 35, 95, 140, 165, 175, 225, 235, 260, 270, 285, 295, 305, 310],
    [165, 165, 160, 155, 150, 140, 135, 130, 135, 155, 215, 235, 245, 240, 250, 235, 240, 240, 235, 230, 235, 250, 250, 260, 265, 270, 270, 270, 270, 270],
    [190, 190, 190, 185, 185, 185, 185, 182, 182, 180, 180, 180, 180, 180, 180, 180, 190, 205, 230, 235, 255, 260, 265, 270, 270, 270, 270, 270, 270, 270],
    [215, 215, 215, 215, 215, 210, 205, 205, 200, 195, 190, 190, 180, 350, 350, 345, 335, 325, 315, 315, 295, 285, 280, 270, 270, 270, 270, 275, 275, 270],
    [250] * 30,
]

# panel (d) only has arrows where coherence is high: row index (same grid as c), column, degrees
phase_d = [
    (0, 3, 225), (0, 7, 0), (0, 12, 325), (0, 17, 180), (0, 19, 175), (0, 27, 225), (0, 29, 180),
    (1, 1, 325), (1, 3, 225), (1, 7, 30), (1, 13, 10), (1, 17, 170), (1, 19, 225), (1, 29, 300),
    (2, 7, 85), (2, 11, 270), (2, 12, 240), (2, 24, 240),
    (3, 9, 350), (3, 11, 315),
    (4, 9, 310), (4, 16, 225), (4, 19, 320), (4, 22, 0),
    (5, 0, 315), (5, 9, 90), (5, 14, 315), (5, 19, 315), (5, 21, 10), (5, 22, 180), (5, 23, 0), (5, 29, 180),
    (6, 0, 120), (6, 9, 285), (6, 19, 270), (6, 21, 50), (6, 22, 0), (6, 29, 185),
    (7, 21, 135), (7, 29, 225),
    (8, 0, 30), (8, 6, 90), (8, 7, 50), (8, 12, 140), (8, 14, 145), (8, 15, 55), (8, 16, 120), (8, 17, 70), (8, 18, 90), (8, 19, 130), (8, 20, 160), (8, 21, 155), (8, 22, 135), (8, 23, 175), (8, 24, 140),
    (9, 0, 0), (9, 3, 125), (9, 6, 80), (9, 7, 50), (9, 12, 145), (9, 15, 105), (9, 16, 110), (9, 17, 90), (9, 18, 90), (9, 19, 135), (9, 20, 165), (9, 21, 165), (9, 22, 160), (9, 23, 160), (9, 24, 150),
    (10, 0, 10), (10, 4, 105), (10, 14, 80), (10, 16, 170), (10, 17, 75), (10, 19, 135), (10, 20, 170), (10, 21, 190), (10, 22, 170), (10, 23, 125), (10, 24, 140),
    (11, 19, 165), (11, 20, 195), (11, 21, 190), (11, 23, 345),
    (13, 0, 270), (13, 1, 330), (13, 2, 290), (13, 3, 290), (13, 4, 315), (13, 5, 315), (13, 6, 310), (13, 7, 310), (13, 8, 305), (13, 9, 315), (13, 10, 315),
    (14, 0, 290), (14, 1, 325), (14, 2, 345), (14, 3, 350), (14, 4, 335), (14, 5, 315), (14, 6, 275), (14, 7, 275), (14, 8, 260),
    (16, 14, 40), (16, 15, 40), (16, 16, 40), (16, 17, 35), (16, 29, 40),
    (17, 1, 125), (17, 2, 120), (17, 3, 130), (17, 13, 50), (17, 14, 55), (17, 15, 65), (17, 16, 80), (17, 27, 35), (17, 28, 25), (17, 29, 20),
    (18, 2, 135), (18, 3, 135), (18, 4, 125), (18, 5, 90), (18, 25, 0), (18, 26, 0), (18, 27, 0), (18, 28, 0), (18, 29, 0),
    (19, 24, 345), (19, 25, 335), (19, 26, 335), (19, 27, 330), (19, 28, 330),
    (20, 27, 290),
    (21, 16, 250), (21, 17, 255), (21, 18, 260), (21, 19, 250), (21, 20, 250), (21, 21, 270), (21, 22, 270), (21, 23, 270), (21, 24, 270), (21, 25, 270), (21, 26, 270), (21, 27, 270), (21, 28, 270), (21, 29, 270),
    (22, 0, 185), (22, 16, 195), (22, 17, 215), (22, 18, 225), (22, 19, 230), (22, 20, 265), (22, 21, 270), (22, 22, 270), (22, 23, 270), (22, 24, 270), (22, 25, 270), (22, 26, 270), (22, 27, 270), (22, 28, 270), (22, 29, 270),
    (23, 0, 215), (23, 1, 215), (23, 2, 215), (23, 3, 215), (23, 4, 215), (23, 5, 215), (23, 6, 210), (23, 7, 205), (23, 8, 205), (23, 9, 195), (23, 10, 190), (23, 11, 180), (23, 12, 180), (23, 13, 340), (23, 14, 340), (23, 15, 330), (23, 16, 320), (23, 17, 320), (23, 18, 300), (23, 19, 285), (23, 20, 280), (23, 21, 275), (23, 22, 275), (23, 23, 275), (23, 24, 275), (23, 25, 275), (23, 26, 275), (23, 27, 275), (23, 28, 275), (23, 29, 275),
    (24, 0, 250), (24, 1, 250), (24, 2, 250), (24, 3, 250), (24, 4, 250), (24, 5, 250), (24, 6, 250), (24, 7, 250), (24, 14, 250), (24, 18, 250), (24, 21, 250), (24, 22, 250), (24, 23, 250), (24, 24, 250), (24, 25, 250), (24, 26, 250), (24, 27, 250), (24, 28, 250), (24, 29, 250),
]

arrow_years = 1985.5 + 1.25 * np.arange(30)
arrow_log2 = 1.05 + 0.25 * np.arange(26)  # index 0 is the clipped row along the top

cmap_stops = [(0.0, (65, 30, 165)), (0.17, (70, 75, 245)), (0.24, (0, 105, 255)), (0.365, (0, 140, 240)), (0.46, (0, 180, 210)),
              (0.54, (0, 195, 160)), (0.625, (0, 205, 110)), (0.65, (0, 215, 90)), (0.657, (110, 200, 70)), (0.707, (140, 200, 50)),
              (0.75, (200, 190, 0)), (0.79, (230, 170, 20)), (0.83, (255, 175, 40)), (0.89, (255, 200, 10)), (0.95, (255, 225, 0)), (1.0, (250, 250, 0))]
wave_cmap = LinearSegmentedColormap.from_list("wave", [(f, tuple(c / 255 for c in rgb)) for f, rgb in cmap_stops], N=512)


def pixel_axes(fig, left, top, right, bottom):
    return fig.add_axes([left / W, 1 - bottom / H, (right - left) / W, (bottom - top) / H])


def upsample(rows, levels):
    # stripes in period like the original scales, tighter peaks along time
    fine_y = np.arange(1.04, 7.3001, 1 / 13)
    fine_x = np.arange(1985, 2022.01, 0.25)
    for i, r in enumerate(levels):
        if len(r) != 38:
            print("row", i, "has", len(r))
    arr = np.array([(list(r) + [r[-1]] * 38)[:38] for r in levels], float)
    by_y = np.array([np.interp(fine_y, rows, arr[:, j]) for j in range(38)]).T
    base = np.floor(fine_x)
    t = fine_x - base
    warped = base + t * t * (3 - 2 * t)
    out = [np.interp(warped, grid_years, row) for row in by_y]
    return fine_x, fine_y, np.array(out)


def smooth_loop(points, n=3):
    pts = np.array(points, float)
    for _ in range(n):
        nxt = np.roll(pts, -1, axis=0)
        pts = np.column_stack([0.75 * pts + 0.25 * nxt, 0.25 * pts + 0.75 * nxt]).reshape(-1, 2)
    return np.vstack([pts, pts[0]])


def draw_panel(fig, box, cbox, rows, levels, scale, vlim, tone, cticks, clabels, contours, title, title_y, label_x, arrows=None):
    ax = pixel_axes(fig, *box)
    fx, fy, z = upsample(rows, levels)
    z = np.interp(z * scale, tone[0], tone[1])
    dx = 0.125
    dy = 1 / 26
    xe = np.append(fx - dx, fx[-1] + dx)
    ye = 2.0 ** np.append(fy - dy, fy[-1] + dy)
    mesh = ax.pcolormesh(xe, ye, z, cmap=wave_cmap, vmin=vlim[0], vmax=vlim[1], shading="flat", rasterized=True, zorder=1)

    for c in contours:
        s = smooth_loop(c)
        ax.plot(s[:, 0], 2.0 ** s[:, 1], color="k", lw=7.4, solid_joinstyle="round", zorder=2)

    if arrows is not None:
        ax_x, ax_y, deg = arrows
        rad = np.deg2rad(deg)
        # arrows are longer across than up and down in the original
        size = 35 * 24 / np.hypot(24 * np.cos(rad), 35 * np.sin(rad))
        ax.quiver(ax_x, 2.0 ** np.array(ax_y), size * np.cos(rad), size * np.sin(rad), angles="uv", units="dots", scale_units="dots",
                  scale=1, width=3.5, headwidth=5.0, headlength=4.8, headaxislength=4.3, pivot="mid", color="k", zorder=3)

    # white veil outside the cone of influence, it also turns contours and arrows grey
    ax.fill_between(coi_years, coi_periods, 400, color="white", alpha=0.5, lw=0, zorder=4)
    ax.plot(coi_years, coi_periods, color="k", lw=1.5, zorder=5)

    ax.set_yscale("log", base=2)
    ax.set_xlim(1985, 2022)
    ax.set_ylim(2 ** 7.3, 2 ** 1.04)
    ax.set_yticks(period_ticks, [str(p) for p in period_ticks])
    ax.minorticks_off()
    ax.set_xticks(year_ticks, [str(y) for y in year_ticks])
    ax.tick_params(direction="in", length=10, width=1.2, top=True, right=True, labelsize=26, color="#262626", labelcolor="#262626")
    ax.tick_params(axis="x", pad=15)
    ax.tick_params(axis="y", pad=12)
    for s in ax.spines.values():
        s.set_linewidth(1.5)
        s.set_color("#404040")

    cax = pixel_axes(fig, *cbox)
    cb = fig.colorbar(mesh, cax=cax)
    cb.set_ticks(cticks, labels=clabels)
    cb.ax.minorticks_off()
    cb.ax.tick_params(direction="in", length=10, width=1.2, labelsize=26, pad=13, color="#262626", labelcolor="#262626")
    cb.outline.set_linewidth(1.5)
    cb.outline.set_edgecolor("#404040")

    center = (box[0] + box[2]) / 2
    fig.text(center / W, 1 - title_y / H, title, fontsize=30.5, ha="center", va="center", color="#1a1a1a")
    fig.text(label_x / W, 1 - ((box[1] + box[3]) / 2 + 8) / H, "Period （Year）", fontsize=27.5, rotation=90, ha="center", va="center", color="#262626")


fig = plt.figure(figsize=(W / 100, H / 100), dpi=100)

log_ticks = [-3, -2, -1, 0, 1, 2, 3]
log_labels = ["1/8", "1/4", "1/2", "1", "2", "4", "8"]
tone_a = ([-4.5, -3.5, -2.5, -1.5, 0, 5], [-4.5, -4, -2.9, -1.7, 0, 5])
tone_b = ([-4.5, -3.5, -2.5, -1.5, 0, 5], [-4.5, -4.2, -3, -1.8, 0, 5])
tone_c = ([-3.5, -3, -2.5, -2, -1.5, 0, 5], [-3.5, -3.5, -2.9, -2.2, -1.6, 0, 5])
tone_d = ([0, 0.1, 0.3, 0.6, 0.8, 1], [0, 0.06, 0.24, 0.6, 0.84, 1])

draw_panel(fig, (156, 18, 1384, 793), (1414, 18, 1476, 793), rows_a, levels_a, 0.5, (-3.96, 3.96), tone_a, log_ticks, log_labels, contours_a, titles[0], 898, 38)
draw_panel(fig, (1996, 18, 3221, 793), (3252, 18, 3314, 793), rows_b, levels_b, 0.5, (-4.3, 4.3), tone_b, [-4] + log_ticks + [4], ["1/16"] + log_labels + ["16"], contours_b, titles[1], 898, 1877)

cols_c, rows_arrow_c, deg_c = [], [], []
for i, row in enumerate(phase_c):
    for j, d in enumerate(row):
        cols_c.append(arrow_years[j])
        rows_arrow_c.append(arrow_log2[i])
        deg_c.append(d)
draw_panel(fig, (156, 1096, 1384, 1869), (1414, 1096, 1476, 1869), rows_c, levels_c, 0.5, (-3.48, 3.5), tone_c, log_ticks, log_labels, contours_c, titles[2], 1971, 38,
           arrows=(cols_c, rows_arrow_c, np.array(deg_c)))

draw_panel(fig, (1996, 1096, 3221, 1869), (3252, 1096, 3314, 1869), rows_d, levels_d, 0.1, (0, 1), tone_d, [0, 0.2, 0.4, 0.6, 0.8, 1], ["0", "0.2", "0.4", "0.6", "0.8", "1"], contours_d, titles[3], 1966, 1877,
           arrows=([arrow_years[c] for r, c, d in phase_d], [arrow_log2[r + 1] for r, c, d in phase_d], np.array([d for r, c, d in phase_d])))

fig.savefig("out.png", dpi=100)
